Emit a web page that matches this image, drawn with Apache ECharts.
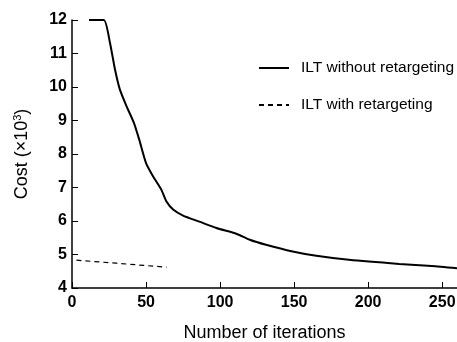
<!DOCTYPE html>
<html><head><meta charset="utf-8">
<script src="https://cdn.jsdelivr.net/npm/echarts@6/dist/echarts.min.js"></script>
<style>html,body{margin:0;padding:0;background:#fff}#c{width:457px;height:342px}</style>
</head><body><div id="c"></div>
<script>
var seriesNames = ['ILT without retargeting', 'ILT with retargeting'];
var iterWithout = [11.5, 21.5, 25.6, 29, 32.3, 36.8, 41.8, 45.4, 50, 54.8, 60.4, 63.8, 68.3, 75, 86, 97.5, 111, 120, 131, 149, 165, 187, 221, 243, 260];
var costWithout = [12, 12, 11.33, 10.53, 9.93, 9.43, 8.93, 8.43, 7.73, 7.33, 6.93, 6.58, 6.34, 6.16, 5.98, 5.79, 5.62, 5.44, 5.29, 5.09, 4.96, 4.84, 4.72, 4.66, 4.59];
var iterWith = [3, 30, 64];
var costWith = [4.83, 4.74, 4.62];
var xTicks = [0, 50, 100, 150, 200, 250];
var yTicks = [4, 5, 6, 7, 8, 9, 10, 11, 12];

function zip(a, b) { return a.map(function (v, i) { return [v, b[i]]; }); }
var FONT = 'Liberation Sans, Arial, sans-serif';
var chart = echarts.init(document.getElementById('c'));
chart.setOption({
  animation: false,
  grid: { left: 72, right: 0, top: 20, bottom: 54, containLabel: false, outerBoundsMode: 'none' },
  legend: {
    orient: 'vertical', left: 258, top: 60, padding: 0, itemWidth: 30, itemHeight: 14, itemGap: 21,
    data: seriesNames,
    itemStyle: { color: 'transparent', borderWidth: 0, opacity: 0 },
    textStyle: { fontFamily: FONT, fontSize: 15.5, color: '#000', padding: [0, 0, 0, 7] }
  },
  xAxis: {
    type: 'value', min: 0, max: 260, interval: 50,
    name: 'Number of iterations', nameLocation: 'middle', nameGap: 36,
    nameTextStyle: { fontFamily: FONT, fontSize: 18, color: '#000' },
    axisLine: { lineStyle: { color: '#000', width: 1.5 } },
    axisTick: { inside: true, length: 6, lineStyle: { color: '#000' } },
    axisLabel: { fontFamily: FONT, fontSize: 16, fontWeight: 'bold', color: '#000', margin: 7,
      formatter: function (v) { return xTicks.indexOf(v) >= 0 ? String(v) : ''; } },
    splitLine: { show: false }
  },
  yAxis: {
    type: 'value', min: 4, max: 12, interval: 1,
    name: '{a|Cost (×10}{s|3}{a|)}', nameLocation: 'middle', nameGap: 39,
    nameTextStyle: { fontFamily: FONT, fontSize: 18, color: '#000',
      rich: { a: { fontFamily: FONT, fontSize: 18, color: '#000' },
              s: { fontFamily: FONT, fontSize: 11, color: '#000', verticalAlign: 'bottom', padding: [0, 0, 10, 0] } } },
    axisLine: { show: true, lineStyle: { color: '#000', width: 1.5 } },
    axisTick: { show: true, inside: true, length: 6, lineStyle: { color: '#000' } },
    axisLabel: { fontFamily: FONT, fontSize: 16, fontWeight: 'bold', color: '#000', margin: 5,
      formatter: function (v) { return yTicks.indexOf(v) >= 0 ? String(v) : ''; } },
    splitLine: { show: false }
  },
  series: [
    { name: seriesNames[0], type: 'line', data: zip(iterWithout, costWithout), symbol: 'none', smooth: 0.2,
      lineStyle: { color: '#000', width: 2 }, itemStyle: { color: '#000' } },
    { name: seriesNames[1], type: 'line', data: zip(iterWith, costWith), symbol: 'none',
      lineStyle: { color: '#000', width: 1.2, type: [5, 4] }, itemStyle: { color: '#000' } }
  ]
});
</script></body></html>
